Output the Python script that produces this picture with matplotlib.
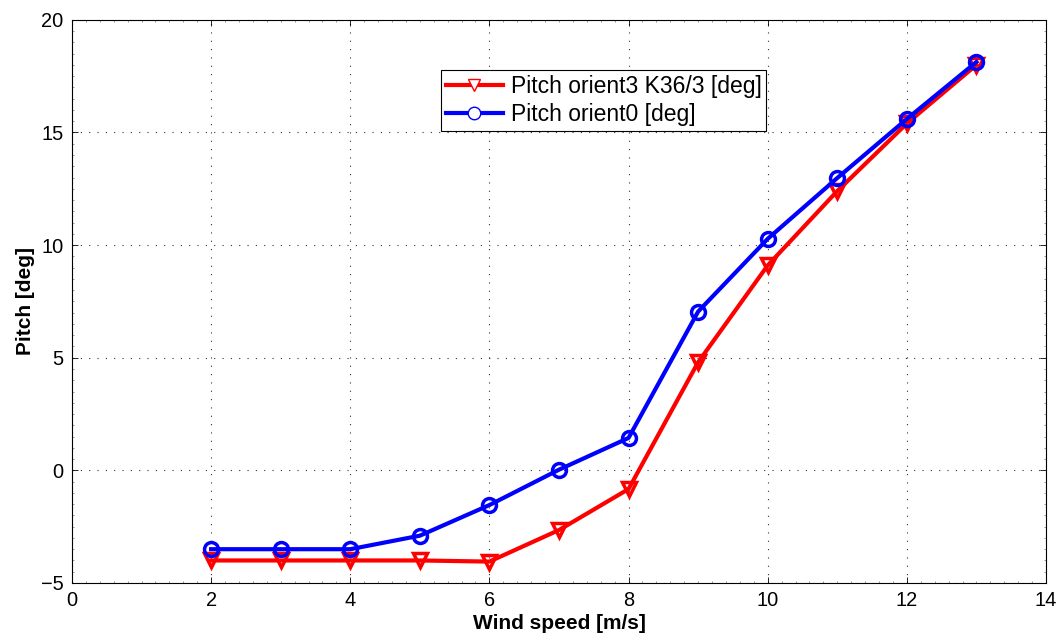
import matplotlib.pyplot as plt
import numpy as np
from matplotlib.lines import Line2D
from matplotlib.ticker import MultipleLocator

plt.rcParams['font.family'] = ['Liberation Sans', 'DejaVu Sans']

wind = [2, 3, 4, 5, 6, 7, 8, 9, 10, 11, 12, 13]
pitch_orient3 = [-4.0, -4.0, -4.0, -4.0, -4.05, -2.65, -0.83, 4.8, 9.1, 12.4, 15.4, 18.0]
pitch_orient0 = [-3.5, -3.5, -3.5, -2.9, -1.54, 0.03, 1.44, 7.05, 10.28, 12.98, 15.6, 18.13]

lab3 = "Pitch orient3 K36/3 [deg]"
lab0 = "Pitch orient0 [deg]"

fig = plt.figure(figsize=(10.63, 6.41), dpi=100)
ax = fig.add_axes([0.0677, 0.0905, 0.9163, 0.8785])

ax.plot(wind, pitch_orient3, color="red", lw=3, marker="v", ms=10,
        mfc="none", mew=2.5, zorder=3)
ax.plot(wind, pitch_orient0, color="blue", lw=3, marker="o", ms=10,
        mfc="none", mew=2.5, zorder=4)

ax.set_xlim(0, 14)
ax.set_ylim(-5, 20)
ax.set_xticks(np.arange(0, 15, 2))
ax.set_yticks(np.arange(-5, 21, 5))
ax.xaxis.set_minor_locator(MultipleLocator(0.2))
ax.yaxis.set_minor_locator(MultipleLocator(0.5))
ax.grid(True, which="major", linestyle=(0, (1, 6.5)), color="#333333", lw=0.8)
ax.tick_params(which="both", direction="in", top=True, right=True, width=0.6)
ax.tick_params(which="major", labelsize=14.4, length=4.5, pad=6)
ax.tick_params(which="minor", length=1.5, color="#888888")
for s in ax.spines.values():
    s.set_linewidth(0.8)

ax.set_xlabel("Wind speed [m/s]", fontsize=15, fontweight="bold", labelpad=3)
ax.set_ylabel("Pitch [deg]", fontsize=15, fontweight="bold", labelpad=4)

handles = [
    Line2D([], [], color="red", lw=3, marker="v", ms=9, mfc="white", mew=1),
    Line2D([], [], color="blue", lw=3, marker="o", ms=9, mfc="white", mew=1),
]
leg = ax.legend(handles, [lab3, lab0], loc="upper left", bbox_to_anchor=(0.379, 0.911),
                fontsize=16.5, frameon=True, fancybox=False, edgecolor="black",
                borderpad=0.2, labelspacing=0.25, handlelength=2.5, handletextpad=0.35,
                borderaxespad=0, framealpha=1)
leg.get_frame().set_linewidth(0.8)

fig.savefig("out.png", dpi=100)
